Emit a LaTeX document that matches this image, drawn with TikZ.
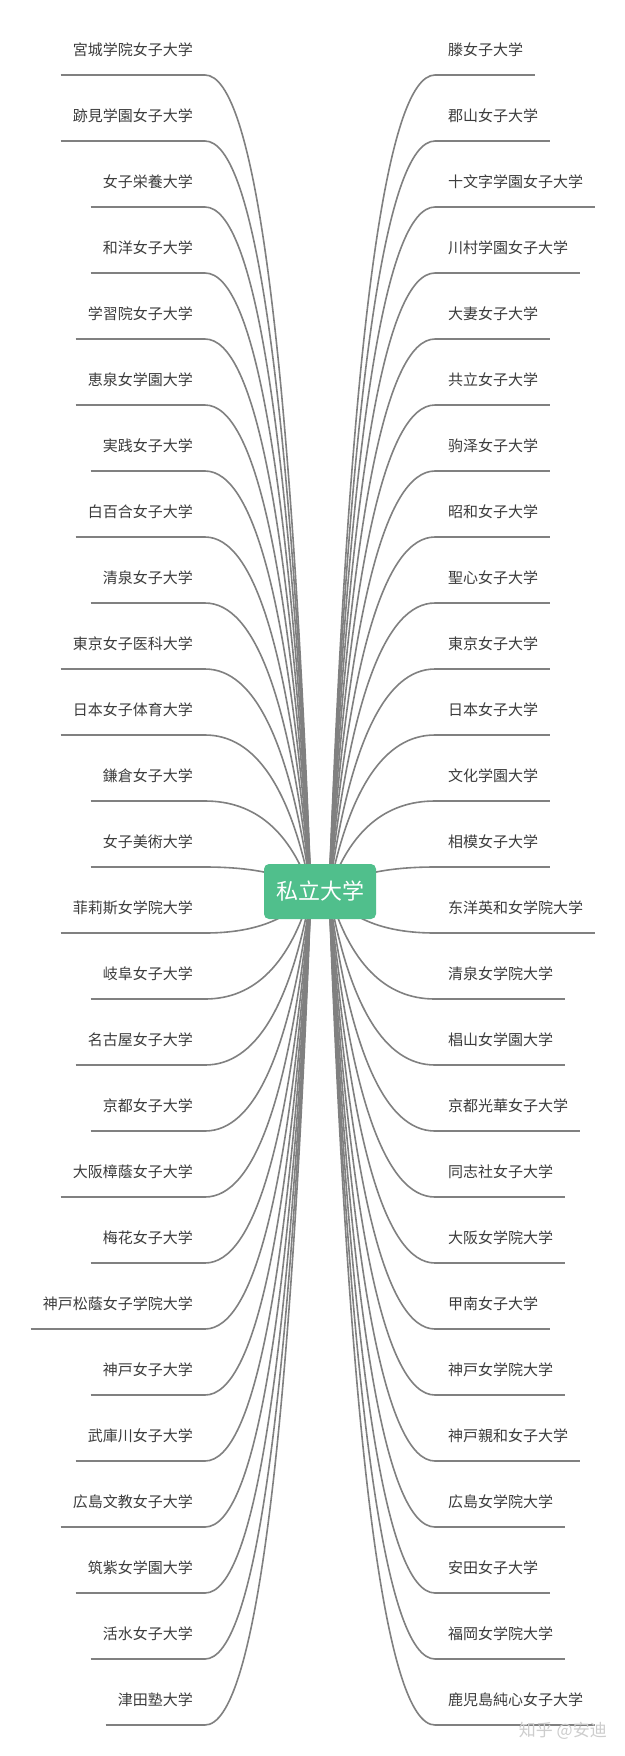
\documentclass[tikz,border=0pt]{standalone}
\usepackage{fontspec}
\newfontfamily\cjk{Noto Sans CJK SC}
\usetikzlibrary{calc,backgrounds}
\definecolor{linegray}{RGB}{128,128,128}
\definecolor{txtgray}{RGB}{60,60,60}
\definecolor{rootgreen}{RGB}{80,191,140}
\definecolor{wmgray}{RGB}{205,205,205}
\tikzset{
  branch/.style={draw=linegray, line width=1.6pt},
  ltext/.style={text=txtgray, font=\cjk\fontsize{15pt}{18pt}\selectfont, inner xsep=12pt, inner ysep=0pt, anchor=east},
  rtext/.style={text=txtgray, font=\cjk\fontsize{15pt}{18pt}\selectfont, inner xsep=12pt, inner ysep=0pt, anchor=west},
  rootbox/.style={fill=rootgreen, rounded corners=5pt, minimum width=112pt, minimum height=55pt, text=white, font=\cjk\fontsize{22pt}{26pt}\selectfont, inner sep=0pt},
  wm/.style={text=wmgray, font=\cjk\fontsize{17pt}{20pt}\selectfont, inner sep=0pt}
}
\begin{document}
\begin{tikzpicture}[x=1pt,y=-1pt]
\useasboundingbox (0,0) rectangle (624,1756);
\node[rootbox] (root) at (320,891.5) {私立大学};
\coordinate (Lr) at ($(root.center)+(-9,0)$);
\coordinate (Rr) at ($(root.center)+(9,0)$);
\begin{scope}[on background layer]
\fill[white] (0,0) rectangle (624,1756);
\foreach \t [count=\i from 0] in {宮城学院女子大学,跡見学園女子大学,女子栄養大学,和洋女子大学,学習院女子大学,恵泉女学園大学,実践女子大学,白百合女子大学,清泉女子大学,東京女子医科大学,日本女子体育大学,鎌倉女子大学,女子美術大学,菲莉斯女学院大学,岐阜女子大学,名古屋女子大学,京都女子大学,大阪樟蔭女子大学,梅花女子大学,神戸松蔭女子学院大学,神戸女子大学,武庫川女子大学,広島文教女子大学,筑紫女学園大学,活水女子大学,津田塾大学} {
  \pgfmathsetmacro\yy{75+66*\i}
  \coordinate (Lc\i) at (205,\yy);
  \coordinate (Lk\i) at (280,\yy);
  \node[ltext] (L\i) at (205,\yy-25.5) {\t};
  \draw[branch] (L\i.west |- Lc\i) -- (Lc\i);
  \draw[branch] (Lr) .. controls ($(Lr)!0.6667!(Lk\i)$) and ($(Lc\i)!0.6667!(Lk\i)$) .. (Lc\i);
}
\foreach \t [count=\i from 0] in {滕女子大学,郡山女子大学,十文字学園女子大学,川村学園女子大学,大妻女子大学,共立女子大学,驹泽女子大学,昭和女子大学,聖心女子大学,東京女子大学,日本女子大学,文化学園大学,相模女子大学,东洋英和女学院大学,清泉女学院大学,椙山女学園大学,京都光華女子大学,同志社女子大学,大阪女学院大学,甲南女子大学,神戸女学院大学,神戸親和女子大学,広島女学院大学,安田女子大学,福岡女学院大学,鹿児島純心女子大学} {
  \pgfmathsetmacro\yy{75+66*\i}
  \coordinate (Rc\i) at (435,\yy);
  \coordinate (Rk\i) at (360,\yy);
  \node[rtext] (R\i) at (436,\yy-25.5) {\t};
  \draw[branch] (Rc\i) -- (R\i.east |- Rc\i);
  \draw[branch] (Rr) .. controls ($(Rr)!0.6667!(Rk\i)$) and ($(Rc\i)!0.6667!(Rk\i)$) .. (Rc\i);
}
\end{scope}
\node[wm, anchor=east] (wmark) at (607,1731) {知乎 @安迪};
\end{tikzpicture}
\end{document}
